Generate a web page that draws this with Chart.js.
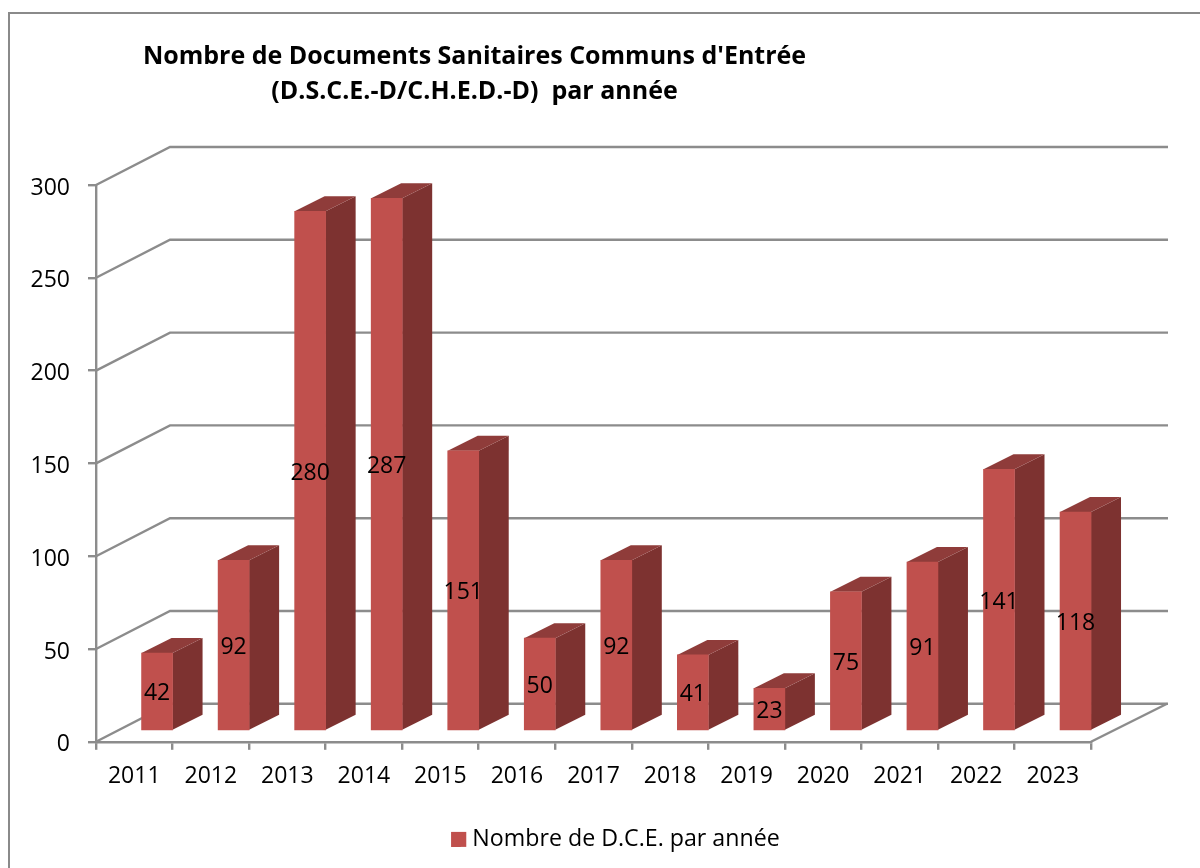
<!DOCTYPE html>
<html lang="fr">
<head>
<meta charset="utf-8">
<title>Nombre de D.C.E. par année</title>
<script src="https://cdn.jsdelivr.net/npm/chart.js@4"></script>
<style>
    html, body { margin: 0; padding: 0; background: #ffffff; overflow: hidden; }
    #box { width: 1200px; height: 868px; }
</style>
</head>
<body>
<div id="box"><canvas id="dceChart" width="1200" height="868"></canvas></div>
<script>
/* ---------------------------
   CHART DATA
---------------------------*/
const years = ['2011', '2012', '2013', '2014', '2015', '2016', '2017', '2018', '2019', '2020', '2021', '2022', '2023'];
const dceValues = [42, 92, 280, 287, 151, 50, 92, 41, 23, 75, 91, 141, 118];
const titleLines = ["Nombre de Documents Sanitaires Communs d'Entrée", '(D.S.C.E.-D/C.H.E.D.-D)  par année'];
const seriesName = 'Nombre de D.C.E. par année';

const FONT = '"Open Sans", "Noto Sans", sans-serif';
const GREY = '#8c8c8c';
const RED = '#c0504d';
const RED_SIDE = '#7d3230';
const RED_TOP = '#8f3c3a';

// fake 3D: wall depth and bar depth, in pixels
const WALL_DX = 74;
const WALL_DY = -38;
const WALL_END = 1168;
const BAR_DX = 22.8;
const BAR_DY = -10.8;
const DEPTH_DX = 30;
const DEPTH_DY = -15;
const LEGEND_SHIFT = 70;

function line(ctx, points) {
    ctx.beginPath();
    points.forEach((p, i) => i ? ctx.lineTo(p[0], p[1]) : ctx.moveTo(p[0], p[1]));
    ctx.stroke();
}

function poly(ctx, points, color) {
    ctx.fillStyle = color;
    ctx.beginPath();
    points.forEach((p, i) => i ? ctx.lineTo(p[0], p[1]) : ctx.moveTo(p[0], p[1]));
    ctx.closePath();
    ctx.fill();
}

const fake3d = {
    id: 'fake3d',
    // move title and legend off the canvas centre, the original sits off centre
    afterLayout(chart) {
        chart.titleBlock.left = 0;
        chart.titleBlock.right = 949;
        chart.legend.left += LEGEND_SHIFT;
        chart.legend.right += LEGEND_SHIFT;
    },
    beforeDraw(chart) {
        const ctx = chart.ctx;
        ctx.save();
        ctx.strokeStyle = '#8a8a8a';
        ctx.lineWidth = 2;
        ctx.strokeRect(9, 13, 1400, 1000);
        ctx.restore();
    },
    beforeDatasetsDraw(chart) {
        const ctx = chart.ctx;
        const area = chart.chartArea;
        const yScale = chart.scales.y;

        ctx.save();
        ctx.strokeStyle = GREY;
        ctx.lineWidth = 2.4;

        // side wall and back wall lines
        yScale.ticks.forEach(tick => {
            const y = yScale.getPixelForValue(tick.value);
            line(ctx, [[area.left, y], [area.left + WALL_DX, y + WALL_DY], [WALL_END, y + WALL_DY]]);
        });
        // right edge of the floor
        const y0 = yScale.getPixelForValue(0);
        line(ctx, [[area.right, y0], [area.right + WALL_DX + 2, y0 + WALL_DY]]);

        // bar sides and tops
        chart.getDatasetMeta(0).data.forEach(bar => {
            const half = bar.width / 2;
            const l = bar.x - half + BAR_DX;
            const r = bar.x + half + BAR_DX;
            const t = bar.y + BAR_DY;
            const b = bar.base + BAR_DY;
            poly(ctx, [[r, t], [r + DEPTH_DX, t + DEPTH_DY], [r + DEPTH_DX, b + DEPTH_DY], [r, b]], RED_SIDE);
            poly(ctx, [[l, t], [l + DEPTH_DX, t + DEPTH_DY], [r + DEPTH_DX, t + DEPTH_DY], [r, t]], RED_TOP);
        });
        ctx.restore();

        // the front faces are drawn by Chart.js, just shifted into the depth
        ctx.save();
        ctx.translate(BAR_DX, BAR_DY);
    },
    afterDatasetsDraw(chart) {
        const ctx = chart.ctx;
        ctx.restore();

        ctx.save();
        ctx.fillStyle = '#000000';
        ctx.font = '23px ' + FONT;
        ctx.textAlign = 'center';
        ctx.textBaseline = 'middle';
        chart.getDatasetMeta(0).data.forEach((bar, i) => {
            ctx.fillText(String(dceValues[i]), bar.x + BAR_DX, (bar.y + bar.base) / 2 + BAR_DY + 2.5);
        });
        ctx.restore();
    },
    // legend swatch: Chart.js puts half a font size between box and text, the original less
    afterDraw(chart) {
        const ctx = chart.ctx;
        const hit = chart.legend.legendHitBoxes[0];
        ctx.save();
        ctx.fillStyle = RED;
        ctx.fillRect(hit.left, hit.top + (hit.height - 15) / 2, 15, 15);
        ctx.restore();
    }
};

/* ---------------------------
   INITIALIZE CHART
---------------------------*/
function initializeChart() {
    const ctx = document.getElementById('dceChart');

    return new Chart(ctx, {
        type: 'bar',
        data: {
            labels: years,
            datasets: [{
                label: seriesName,
                data: dceValues,
                backgroundColor: RED,
                borderWidth: 0,
                barThickness: 31,
            }]
        },
        plugins: [fake3d],
        options: {
            responsive: false,
            animation: false,
            layout: {
                padding: { left: 0, right: 109, top: 0, bottom: 7 }
            },
            plugins: {
                tooltip: { enabled: false },
                title: {
                    display: true,
                    text: titleLines,
                    color: '#000000',
                    font: { family: FONT, size: 25, weight: 'bold', lineHeight: 1.4 },
                    padding: { top: 39, bottom: 76 }
                },
                legend: {
                    position: 'bottom',
                    labels: {
                        color: '#000000',
                        font: { family: FONT, size: 23.2 },
                        boxWidth: 9.5,
                        boxHeight: 15,
                        padding: 10
                    }
                }
            },
            scales: {
                x: {
                    afterFit: scale => { scale.height = 76; },
                    grid: { drawOnChartArea: false, color: GREY, lineWidth: 2.4, tickLength: 8 },
                    border: { color: GREY, width: 2.4 },
                    ticks: {
                        color: '#000000',
                        font: { family: FONT, size: 23 },
                        maxRotation: 0,
                        padding: 13
                    }
                },
                y: {
                    min: 0,
                    max: 300,
                    afterFit: scale => { scale.width = 96; },
                    grid: { drawOnChartArea: false, color: GREY, lineWidth: 2.4, tickLength: 8 },
                    border: { color: GREY, width: 2.4 },
                    ticks: {
                        stepSize: 50,
                        color: '#000000',
                        font: { family: FONT, size: 23 },
                        padding: 18,
                        labelOffset: 3
                    }
                }
            }
        }
    });
}

initializeChart();
</script>
</body>
</html>
